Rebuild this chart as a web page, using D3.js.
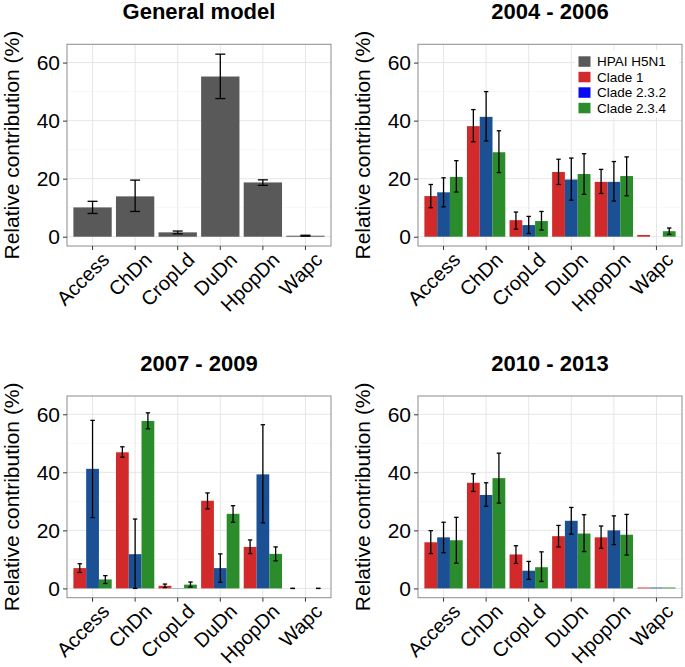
<!DOCTYPE html>
<html>
<head>
<meta charset="utf-8">
<script src="https://cdn.jsdelivr.net/npm/d3@7"></script>
<style>
  body { margin: 0; background: #fff; }
  text { font-family: "Liberation Sans", Arial, Helvetica, sans-serif; }
</style>
</head>
<body>
<svg width="685" height="667"></svg>
<script>
// variables on the x axis
const variables = ["Access", "ChDn", "CropLd", "DuDn", "HpopDn", "Wapc"];
const clades = ["Clade 1", "Clade 2.3.2", "Clade 2.3.4"];
const legendLabels = ["HPAI H5N1", "Clade 1", "Clade 2.3.2", "Clade 2.3.4"];
const yTicks = [0, 20, 40, 60];
const yMinor = [10, 30, 50];

// general model (one bar per variable)
const generalMean = [10.1, 13.9, 1.5, 55.2, 18.7, 0.35];
const generalLo   = [8.0, 8.7, 1.0, 47.6, 17.7, 0.2];
const generalHi   = [12.2, 19.5, 1.95, 62.9, 19.6, 0.5];

// per period: rows = variables, columns = clades (null = no bar)
const mean0406 = [[14.0, 15.3, 20.6], [38.1, 41.3, 29.1], [5.7, 4.0, 5.4], [22.3, 19.7, 21.6], [18.9, 18.9, 20.9], [0.6, null, 1.9]];
const lo0406   = [[10.0, 10.3, 15.4], [32.7, 33.0, 22.1], [2.6, 1.1, 2.3], [18.0, 12.6, 14.6], [14.9, 12.3, 14.1], [null, null, 0.8]];
const hi0406   = [[18.0, 20.3, 26.2], [43.8, 50.0, 36.5], [8.5, 7.0, 8.7], [26.7, 27.1, 28.6], [23.2, 25.9, 27.5], [null, null, 3.0]];

const mean0709 = [[7.0, 41.2, 3.1], [46.9, 11.8, 57.7], [0.9, 0.1, 1.3], [30.2, 7.0, 25.7], [14.3, 39.3, 11.9], [0, null, 0]];
const lo0709   = [[5.5, 24.4, 1.7], [45.2, 0, 55.0], [0.3, null, 0.5], [27.4, 2.1, 22.8], [12.0, 22.6, 9.5], [0, null, 0]];
const hi0709   = [[8.5, 57.9, 4.4], [48.8, 23.9, 60.5], [1.5, null, 2.2], [32.9, 11.9, 28.5], [16.7, 56.4, 14.3], [0, null, 0]];

const mean1013 = [[15.9, 17.6, 16.6], [36.4, 32.2, 38.0], [11.7, 6.1, 7.3], [18.0, 23.3, 18.9], [17.6, 20.0, 18.5], [0.3, 0.3, 0.3]];
const lo1013   = [[12.0, 12.3, 8.7], [33.4, 28.3, 29.4], [8.6, 3.1, 2.4], [14.3, 18.7, 12.7], [13.8, 15.1, 11.5], [null, null, null]];
const hi1013   = [[19.9, 22.8, 24.5], [39.5, 36.4, 46.6], [14.7, 9.3, 12.6], [21.7, 27.9, 25.4], [21.5, 25.0, 25.5], [null, null, null]];

const gray = "#595959";
const cladeColors = ["#d22a2a", "#1b5194", "#2b8c2b"];
const legendColors = [gray, "#d22a2a", "#0a0af0", "#2b8c2b"];

let svg = d3.select("svg");

const plotW = 264, plotH = 201.7;

let panels = [
    {title: "General model", left: 67, top: 44.3, general: true},
    {title: "2004 - 2006", left: 418, top: 44.3, mean: mean0406, lo: lo0406, hi: hi0406, legend: true},
    {title: "2007 - 2009", left: 67, top: 396, mean: mean0709, lo: lo0709, hi: hi0709},
    {title: "2010 - 2013", left: 418, top: 396, mean: mean1013, lo: lo1013, hi: hi1013}
];

panels.forEach(function (p) {
    let g = svg.append("g").attr("transform", "translate(" + p.left + "," + p.top + ")");

    let x = d3.scaleBand()
        .domain(variables)
        .range([0, plotW])
        .paddingInner(0.1)
        .paddingOuter(0.15);

    let y = d3.scaleLinear()
        .domain([-3.2, 66.3])
        .range([plotH, 0]);

    // background + grid
    g.append("rect").attr("width", plotW).attr("height", plotH).attr("fill", "#fff");

    g.selectAll(".minor").data(yMinor).enter().append("line")
        .attr("x1", 0).attr("x2", plotW)
        .attr("y1", d => y(d)).attr("y2", d => y(d))
        .attr("stroke", "#f5f5f5").attr("stroke-width", 0.8);

    g.selectAll(".major").data(yTicks).enter().append("line")
        .attr("x1", 0).attr("x2", plotW)
        .attr("y1", d => y(d)).attr("y2", d => y(d))
        .attr("stroke", "#e6e6e6").attr("stroke-width", 1);

    g.selectAll(".vgrid").data(variables).enter().append("line")
        .attr("x1", d => x(d) + x.bandwidth() / 2).attr("x2", d => x(d) + x.bandwidth() / 2)
        .attr("y1", 0).attr("y2", plotH)
        .attr("stroke", "#e6e6e6").attr("stroke-width", 1);

    let errs = [];

    if (p.general) {
        g.selectAll(".bar").data(variables).enter().append("rect")
            .attr("x", d => x(d))
            .attr("width", x.bandwidth())
            .attr("y", (d, i) => y(generalMean[i]))
            .attr("height", (d, i) => y(0) - y(generalMean[i]))
            .attr("fill", gray);
        variables.forEach(function (v, i) {
            errs.push({cx: x(v) + x.bandwidth() / 2, lo: generalLo[i], hi: generalHi[i], w: 10});
        });
    } else {
        let sub = d3.scaleBand().domain(clades).range([0, x.bandwidth()]);
        variables.forEach(function (v, i) {
            clades.forEach(function (c, j) {
                let m = p.mean[i][j];
                if (m === null) return;
                g.append("rect")
                    .attr("x", x(v) + sub(c))
                    .attr("width", sub.bandwidth())
                    .attr("y", y(m))
                    .attr("height", y(0) - y(m))
                    .attr("fill", cladeColors[j]);
                if (p.lo[i][j] !== null) {
                    errs.push({cx: x(v) + sub(c) + sub.bandwidth() / 2, lo: p.lo[i][j], hi: p.hi[i][j], w: 4.4});
                }
            });
        });
    }

    // error bars
    let eb = g.selectAll(".err").data(errs).enter().append("g")
        .attr("stroke", "#000").attr("stroke-width", 1.3).attr("fill", "none");
    eb.append("line").attr("x1", d => d.cx).attr("x2", d => d.cx)
        .attr("y1", d => y(d.lo)).attr("y2", d => y(d.hi));
    eb.append("line").attr("x1", d => d.cx - d.w / 2).attr("x2", d => d.cx + d.w / 2)
        .attr("y1", d => y(d.lo)).attr("y2", d => y(d.lo));
    eb.append("line").attr("x1", d => d.cx - d.w / 2).attr("x2", d => d.cx + d.w / 2)
        .attr("y1", d => y(d.hi)).attr("y2", d => y(d.hi));

    // panel border
    g.append("rect").attr("width", plotW).attr("height", plotH)
        .attr("fill", "none").attr("stroke", "#8c8c8c").attr("stroke-width", 1);

    // y axis
    let ya = g.append("g").call(d3.axisLeft(y).tickValues(yTicks).tickSize(4).tickPadding(3));
    ya.select(".domain").remove();
    ya.selectAll(".tick line").attr("stroke", "#333");
    ya.selectAll(".tick text").attr("font-size", 21).attr("fill", "#000")
        .attr("font-family", "'Liberation Sans', Arial, sans-serif");

    // x axis
    let xa = g.append("g").attr("transform", "translate(0," + plotH + ")")
        .call(d3.axisBottom(x).tickSize(4).tickFormat(""));
    xa.select(".domain").remove();
    xa.selectAll(".tick line").attr("stroke", "#333");

    g.selectAll(".xlab").data(variables).enter().append("text")
        .attr("transform", d => "translate(" + (x(d) + x.bandwidth() / 2 + 8) + "," + (plotH + 5) + ")rotate(-45)")
        .attr("text-anchor", "end")
        .attr("dy", "0.71em")
        .attr("font-size", 20)
        .text(d => d);

    // y label
    g.append("text")
        .attr("transform", "translate(-55," + (plotH / 2) + ")rotate(-90)")
        .attr("text-anchor", "middle")
        .attr("dy", "0.35em")
        .attr("font-size", 21)
        .text("Relative contribution (%)");

    // title
    g.append("text")
        .attr("x", plotW / 2).attr("y", -25)
        .attr("text-anchor", "middle")
        .attr("font-size", 22).attr("font-weight", "bold")
        .text(p.title);

    if (p.legend) {
        let lg = g.append("g").attr("transform", "translate(157,6)");
        lg.append("rect").attr("width", 104).attr("height", 67).attr("fill", "#fff");
        legendLabels.forEach(function (l, i) {
            lg.append("rect")
                .attr("x", 3.5).attr("y", 6 + i * 15.5)
                .attr("width", 12).attr("height", 10.5)
                .attr("fill", legendColors[i]);
            lg.append("text")
                .attr("x", 22).attr("y", 11.2 + i * 15.5)
                .attr("dy", "0.35em")
                .attr("font-size", 13.5)
                .text(l);
        });
    }
});
</script>
</body>
</html>
